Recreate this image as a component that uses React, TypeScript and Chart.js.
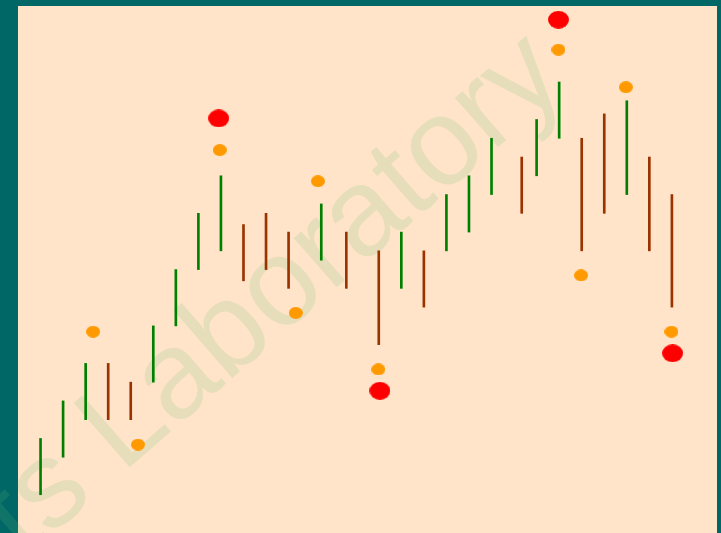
import React, { useEffect, useRef } from "react";
import { Chart, registerables } from "chart.js";

Chart.register(...registerables);

// Bar positions (session index) and open/close values
const barX = [1, 2, 3, 4, 5, 6, 7, 8, 9, 10, 11, 12, 13.45, 14.56, 16, 17, 18, 19, 20, 21, 22.34, 23, 24, 25, 26, 27, 28, 29];
const openVals = [10, 12, 14, 17, 16, 16, 19, 22, 23, 24.4, 25, 24, 22.5, 24, 23, 21, 23, 23, 24, 26, 28, 27, 29, 29, 30.3, 26, 28, 26];
const closeVals = [13, 15, 17, 14, 14, 19, 22, 25, 27, 21.4, 22, 21, 25.5, 21, 18, 24, 20, 26, 27, 29, 25, 30, 32, 23, 25, 31, 23, 20];

// Orange markers
const orangeX = [3.33, 5.32, 8.95, 12.32, 13.3, 15.98, 23.97, 24.97, 26.96, 28.98];
const orangeY = [18.69, 12.67, 28.37, 19.69, 26.71, 16.68, 33.72, 21.69, 31.72, 18.69];

// Red markers
const redX = [8.9, 16.05, 23.97, 29.03];
const redY = [30.06, 15.54, 35.32, 17.54];

const WATERMARK_PREFIX = "Charts ";
const WATERMARK_MAIN = "Laboratory";

const UP_COLOR = "#008000";
const DOWN_COLOR = "#9a3300";
const ORANGE = "#ff9900";
const RED = "#ff0000";
const BG_OUTER = "#006666";
const BG_PLOT = "#ffe4c9";

function ellipseImage(w: number, h: number, color: string): HTMLCanvasElement {
  const c = document.createElement("canvas");
  c.width = w;
  c.height = h;
  const ctx = c.getContext("2d")!;
  ctx.fillStyle = color;
  ctx.beginPath();
  ctx.ellipse(w / 2, h / 2, w / 2, h / 2, 0, 0, Math.PI * 2);
  ctx.fill();
  return c;
}

const bgPlugin = {
  id: "bgPlugin",
  beforeDraw(chart: any) {
    const { ctx, chartArea, width, height } = chart;
    ctx.save();
    ctx.fillStyle = BG_OUTER;
    ctx.fillRect(0, 0, width, height);
    ctx.fillStyle = BG_PLOT;
    ctx.fillRect(chartArea.left, chartArea.top, chartArea.right - chartArea.left, chartArea.bottom - chartArea.top);
    ctx.restore();
  },
  beforeDatasetsDraw(chart: any) {
    const { ctx } = chart;
    ctx.save();
    ctx.translate(122, 474);
    ctx.rotate((-41 * Math.PI) / 180);
    ctx.font = "124px 'Liberation Sans', Arial, sans-serif";
    ctx.fillStyle = "rgba(100,195,120,0.16)";
    ctx.textBaseline = "alphabetic";
    ctx.textAlign = "right";
    ctx.fillText(WATERMARK_PREFIX, 0, 0);
    ctx.textAlign = "left";
    ctx.fillText(WATERMARK_MAIN, 0, 0);
    ctx.restore();
  },
};

export default function App() {
  const ref = useRef<HTMLCanvasElement | null>(null);

  useEffect(() => {
    if (!ref.current) return;
    const orangeImg = ellipseImage(14, 12, ORANGE);
    const redImg = ellipseImage(21, 18, RED);
    const barData = barX.map((x, i) => ({ x, y: [openVals[i], closeVals[i]] }));
    const barColors = barX.map((_, i) => (closeVals[i] >= openVals[i] ? UP_COLOR : DOWN_COLOR));
    const chart = new Chart(ref.current, {
      type: "bar",
      data: {
        datasets: [
          {
            type: "bar",
            data: barData as any,
            backgroundColor: barColors,
            borderWidth: 0,
            barThickness: 2,
            grouped: false,
          } as any,
          {
            type: "scatter",
            data: orangeX.map((x, i) => ({ x, y: orangeY[i] })),
            pointStyle: orangeImg as any,
            pointRadius: 7,
          } as any,
          {
            type: "scatter",
            data: redX.map((x, i) => ({ x, y: redY[i] })),
            pointStyle: redImg as any,
            pointRadius: 10,
          } as any,
        ],
      },
      options: {
        responsive: false,
        animation: false,
        layout: { autoPadding: false, padding: { left: 18, top: 6, right: 4, bottom: 0 } },
        plugins: { legend: { display: false }, tooltip: { enabled: false } },
        scales: {
          x: { type: "linear", min: 0, max: 31, offset: false, display: false },
          y: { type: "linear", min: 7.96, max: 36.05, display: false },
        },
      },
      plugins: [bgPlugin],
    });
    return () => chart.destroy();
  }, []);

  return (
    <div style={{ position: "fixed", left: 0, top: 0, width: 721, height: 533 }}>
      <canvas ref={ref} width={721} height={533} style={{ display: "block" }} />
    </div>
  );
}
